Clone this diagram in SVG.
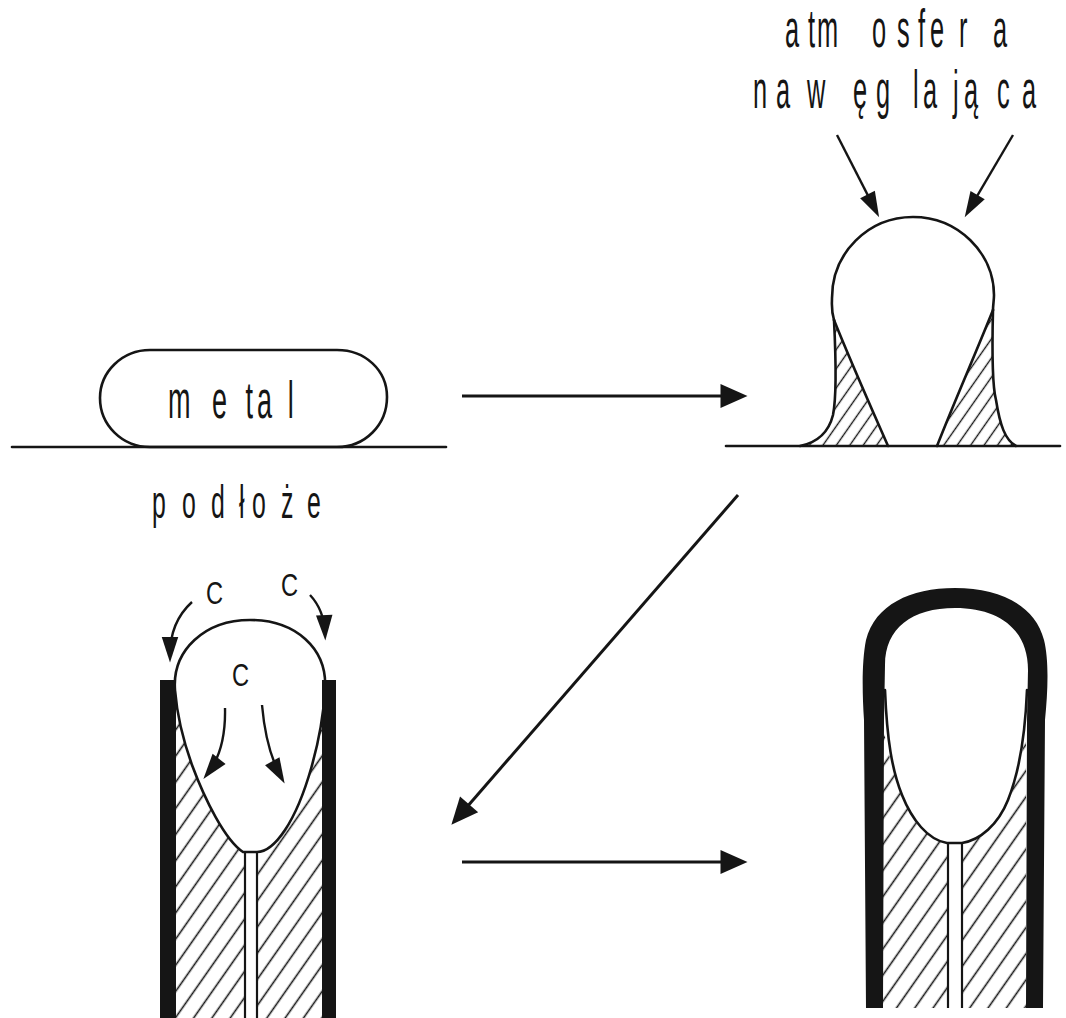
<svg xmlns="http://www.w3.org/2000/svg" width="1066" height="1018" viewBox="0 0 1066 1018">
  <style>
    .ln { fill: none; stroke: #151515; stroke-width: 2.6; stroke-linecap: round; stroke-linejoin: round; }
    .thin { fill: none; stroke: #151515; stroke-width: 2.2; }
    .solid { fill: #151515; stroke: none; }
    .lbl { font-family: "Liberation Sans", Arial, sans-serif; fill: #151515; }
    .conn { fill: none; stroke: #151515; stroke-width: 3; }
    .conn-s { fill: none; stroke: #151515; stroke-width: 2.4; }
  </style>
  <defs>
    <pattern id="hatch-fine" width="11" height="11" patternUnits="userSpaceOnUse" patternTransform="rotate(35)">
      <line x1="5.5" y1="0" x2="5.5" y2="11" stroke="#151515" stroke-width="1.4"/>
    </pattern>
    <pattern id="hatch" width="15" height="15" patternUnits="userSpaceOnUse" patternTransform="rotate(35)">
      <line x1="7.5" y1="0" x2="7.5" y2="15" stroke="#151515" stroke-width="1.6"/>
    </pattern>
    <marker id="ah" markerUnits="userSpaceOnUse" markerWidth="30" markerHeight="30" refX="13" refY="0" viewBox="0 -10 20 20" orient="auto" overflow="visible">
      <path d="M0,-8 L18,0 L0,8 Z" fill="#151515"/>
    </marker>
    <marker id="ahs" markerUnits="userSpaceOnUse" markerWidth="30" markerHeight="30" refX="12" refY="0" viewBox="0 -10 20 20" orient="auto" overflow="visible">
      <path d="M0,-5.5 L17,0 L0,5.5 Z" fill="#151515"/>
    </marker>
  </defs>

  <rect width="1066" height="1018" fill="#ffffff"/>

  <!-- stage 1: metal layer lying on the substrate -->
  <g id="stage-metal">
    <line class="ln" x1="12" y1="447" x2="446" y2="447"/>
    <path class="ln" d="M150,447 L337,447 C365,447 387,425 387,397 C387,370 365,350 337,350 L150,350 C122,350 100,372 100,398 C100,425 122,447 150,447 Z" fill="#fff"/>
    <text class="lbl" font-size="51" transform="scale(0.53,1)" y="418" x="317 400 463 485 543">metal</text>
  </g>

  <g id="label-substrate">
    <text class="lbl" font-size="46" transform="scale(0.54,1)" y="518" x="281.5 337 390.7 442.6 466.7 520.4 568.5">podłoże</text>
  </g>

  <g id="label-atmosphere">
    <text class="lbl" font-size="54" transform="scale(0.47,1)" y="47" x="1670.2 1719.1 1738.3 1855.3 1908.5 1953.2 1978.7 2040.4 2112.8">atmosfera</text>
    <text class="lbl" font-size="54" transform="scale(0.47,1)" y="108" x="1602.1 1651.1 1717 1814.9 1863.8 1942.6 1963.8 2027.7 2051.1 2121.3 2174.5">nawęglająca</text>
  </g>

  <!-- stage 2: drop rising from the substrate with hatched fillets -->
  <g id="stage-drop">
    <path d="M834,320 C836,360 836,400 833,415 C828,435 815,443 800,446 L888,446 Z" fill="url(#hatch-fine)"/>
    <path d="M993,310 C992,350 992,385 996,400 C1000,425 1005,440 1016,446 L937,446 Z" fill="url(#hatch-fine)"/>
    <line class="ln" x1="726" y1="446" x2="1060" y2="446"/>
    <path class="ln" d="M834,320 C831,310 832,304 832,298 C832,253 868,217 913,217 C958,217 994,253 994,295 C994,300 993,305 993,310"/>
    <path class="ln" d="M834,320 C850,360 870,405 888,446"/>
    <path class="ln" d="M993,310 C975,355 955,400 937,446"/>
    <path class="ln" d="M834,320 C836,360 836,400 833,415 C828,435 815,443 800,446"/>
    <path class="ln" d="M993,310 C992,350 992,385 996,400 C1000,425 1005,440 1016,446"/>
  </g>

  <!-- stage 3: carbon diffusing into the growing fibre -->
  <g id="stage-growth">
    <path d="M176,690 C177,715 183,740 192,765 C205,800 225,840 243,852 L245,852 L245,1018 L176,1018 Z" fill="url(#hatch)"/>
    <path d="M323,690 C322,740 305,800 285,830 C275,845 265,852 257,852 L257,1018 L323,1018 Z" fill="url(#hatch)"/>
    <path class="ln" d="M175,690 C172,650 205,620 250,620 C295,620 328,648 325,690 C322,740 305,800 285,830 C275,845 265,852 257,852 L243,852 C225,840 205,800 192,765 C183,740 177,715 175,690"/>
    <line class="thin" x1="245" y1="852" x2="245" y2="1018"/>
    <line class="thin" x1="257" y1="852" x2="257" y2="1018"/>
    <rect class="solid" x="160" y="680" width="16" height="338"/>
    <rect class="solid" x="322" y="680" width="14" height="338"/>
    <text class="lbl" font-size="32" transform="scale(0.74,1)" x="278.4" y="604">C</text>
    <text class="lbl" font-size="32" transform="scale(0.74,1)" x="379.7" y="596">C</text>
    <text class="lbl" font-size="32" transform="scale(0.74,1)" x="313.5" y="686">C</text>
    <path class="conn-s" d="M192,602 Q170,622 170,655" marker-end="url(#ahs)"/>
    <path class="conn-s" d="M310,595 Q324,610 325,633" marker-end="url(#ahs)"/>
    <path class="conn-s" d="M225,708 Q226,750 208,773" marker-end="url(#ahs)"/>
    <path class="conn-s" d="M262,705 Q266,750 281,777" marker-end="url(#ahs)"/>
  </g>

  <!-- stage 4: finished fibre enclosed by the carbon shell -->
  <g id="stage-fibre">
    <path d="M883,725 C887,750 893,772 902,795 C912,820 928,840 947,843 L948,843 L948,1008 L883,1008 Z" fill="url(#hatch)"/>
    <path d="M1026,725 C1023,755 1017,778 1008,800 C998,825 980,840 962,843 L962,1008 L1026,1008 Z" fill="url(#hatch)"/>
    <path class="solid" d="M866,1008 L864,720 C862,690 862,660 866,640 C875,605 910,588 955,588 C1000,588 1035,605 1044,640 C1049,660 1048,690 1045,720 L1043,1008 L1026,1008 L1027,720 L1028,670 C1028,630 1000,608 955,608 C912,608 885,628 885,665 L884,720 L883,1008 Z"/>
    <path class="ln" d="M885,690 C887,740 892,770 902,795 C912,820 928,840 947,843 L962,843 C980,840 998,825 1008,800 C1018,775 1025,740 1027,690"/>
    <line class="thin" x1="948" y1="843" x2="948" y2="1008"/>
    <line class="thin" x1="962" y1="843" x2="962" y2="1008"/>
  </g>

  <g id="connectors">
    <line class="conn" x1="462" y1="396" x2="740" y2="396" marker-end="url(#ah)"/>
    <line class="conn" x1="738" y1="495" x2="456.3" y2="819.2" marker-end="url(#ah)"/>
    <line class="conn" x1="462" y1="862" x2="740" y2="862" marker-end="url(#ah)"/>
    <line class="conn-s" x1="837" y1="135" x2="875.7" y2="210.6" marker-end="url(#ahs)"/>
    <line class="conn-s" x1="1013" y1="135" x2="968.5" y2="210.7" marker-end="url(#ahs)"/>
  </g>
</svg>
